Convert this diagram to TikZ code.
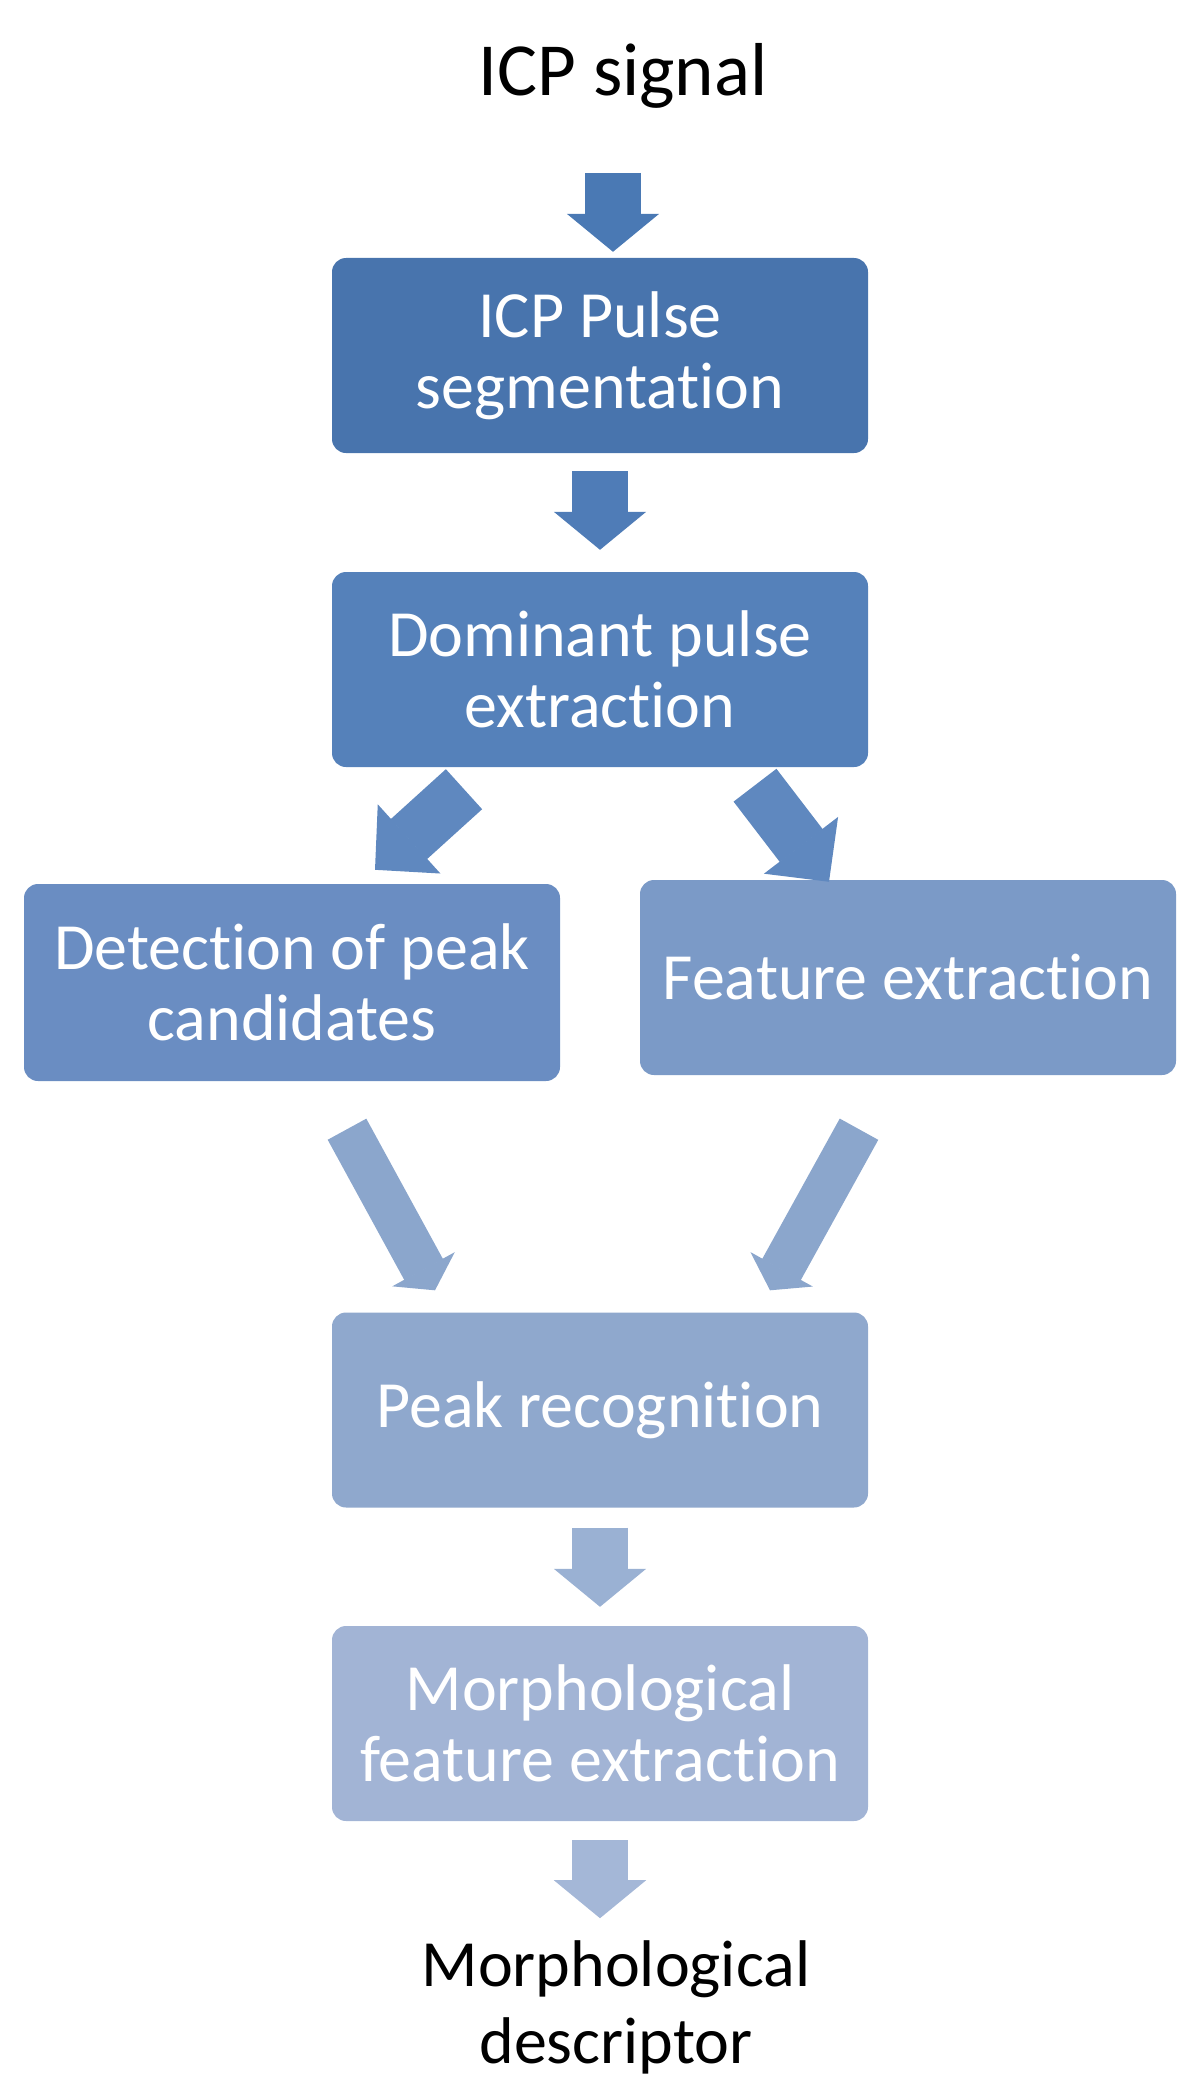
\documentclass[tikz,border=0pt]{standalone}
\usepackage{fontspec}
\setmainfont{Carlito}[Ligatures={NoCommon,NoContextual}]
\usetikzlibrary{arrows.meta}

\definecolor{boxA}{HTML}{4874AD}
\definecolor{boxB}{HTML}{5581BA}
\definecolor{boxC}{HTML}{6A8DC2}
\definecolor{boxD}{HTML}{7B9AC7}
\definecolor{boxE}{HTML}{8FA8CD}
\definecolor{boxF}{HTML}{A2B4D5}
\definecolor{arrA}{HTML}{4A79B4}
\definecolor{arrB}{HTML}{4F7CB7}
\definecolor{arrC}{HTML}{5F88BF}
\definecolor{arrD}{HTML}{8BA6CC}
\definecolor{arrE}{HTML}{9AB1D3}
\definecolor{arrF}{HTML}{A4B7D7}

\begin{document}
\begin{tikzpicture}[x=1pt,y=-1pt,
	stage/.style={rounded corners=14pt, minimum width=536pt, minimum height=195pt, inner sep=0pt,
		text=white, align=center, font=\fontsize{66}{71}\selectfont},
	plaintext/.style={inner sep=0pt, align=center},
	straight/.style={line width=56pt, -{Triangle[length=38pt,width=92pt,line width=2pt]}},
	slanted/.style={line width=54pt, -{Triangle[length=46pt,width=93pt,line width=2pt]}},
	steep/.style={line width=44pt, -{Triangle[length=24pt,width=71pt,line width=2pt]}}]
\useasboundingbox (0,0) rectangle (1200,2100);

\node[plaintext, font=\fontsize{75}{80}\selectfont] (sig) at (623,76) {ICP signal};
\node[stage, fill=boxA] (seg) at (600,355.5) {ICP Pulse\\segmentation};
\node[stage, fill=boxB] (dom) at (600,669.5) {Dominant pulse\\extraction};
\node[stage, fill=boxC, minimum height=197pt] (det) at (292,982.5) {Detection of peak\\candidates};
\node[stage, fill=boxD] (feat) at (908,977.5) {Feature extraction};
\node[stage, fill=boxE] (peak) at (600,1410) {Peak recognition};
\node[stage, fill=boxF] (morph) at (600,1723.5) {Morphological\\feature extraction};
\node[plaintext, font=\fontsize{66}{77}\selectfont] (desc) at (616,2007) {Morphological\\descriptor};

\path
([shift={(13,-85)}]seg.north) edge[straight, draw=arrA] ([shift={(13,-6)}]seg.north)
([shift={(0,18)}]seg.south) edge[straight, draw=arrB] ([shift={(0,-22)}]dom.north)
([shift={(-136,22)}]dom.south) edge[slanted, draw=arrC] ([shift={(83,-14)}]det.north)
([shift={(155,18)}]dom.south) edge[slanted, draw=arrC] ([shift={(-79,2)}]feat.north)
([shift={(55,48)}]det.south) edge[steep, draw=arrD] ([shift={(-165,-22)}]peak.north)
([shift={(-49,54)}]feat.south) edge[steep, draw=arrD] ([shift={(170,-22)}]peak.north)
([shift={(0,20)}]peak.south) edge[straight, draw=arrE] ([shift={(0,-19)}]morph.north)
([shift={(0,19)}]morph.south) edge[straight, draw=arrF] ([shift={(0,97)}]morph.south)
;
\end{tikzpicture}
\end{document}
